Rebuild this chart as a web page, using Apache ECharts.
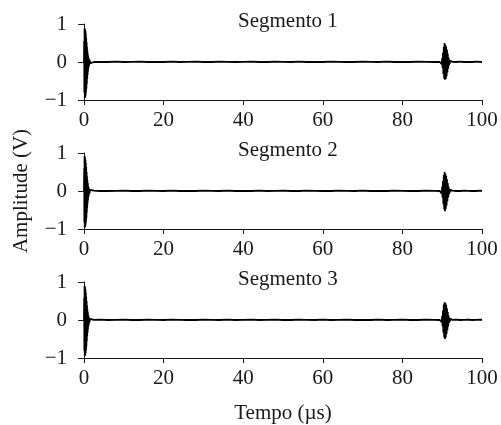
<!DOCTYPE html>
<html lang="pt">
<head>
    <meta charset="UTF-8">
    <title>Segmentos</title>
    <script src="https://cdn.jsdelivr.net/npm/echarts@6/dist/echarts.min.js"></script>
</head>
<style>
    html, body { margin: 0; padding: 0; background: #fff; }
    #chart { width: 501px; height: 425px; }
</style>
<body>
<div id="chart"></div>
<script type="text/javascript">
    // eixos
    var xTicks = [0, 20, 40, 60, 80, 100];
    var yTicks = [-1, 0, 1];
    var titles = ['Segmento 1', 'Segmento 2', 'Segmento 3'];

    // pulso inicial (tempo em µs)
    var burstTime = [0, 0.05, 0.1, 0.15, 0.2, 0.25, 0.3, 0.35, 0.4, 0.45, 0.5, 0.55, 0.6, 0.65, 0.7, 0.75,
        0.8, 0.85, 0.9, 0.95, 1.0, 1.05, 1.1, 1.15, 1.2, 1.25, 1.3, 1.35, 1.4, 1.5, 1.6, 1.8, 2.0];
    var burst1 = [0, 0.55, -0.80, 0.89, -0.95, 0.86, -0.93, 0.82, -0.88, 0.75, -0.80, 0.64, -0.70, 0.52, -0.58, 0.40,
        -0.45, 0.30, -0.34, 0.22, -0.25, 0.15, -0.17, 0.10, -0.12, 0.07, -0.08, 0.05, -0.05, 0.03, -0.03, 0.01, 0];
    var burst2 = [0, 0.60, -0.82, 0.92, -0.96, 0.88, -0.94, 0.83, -0.89, 0.74, -0.81, 0.63, -0.71, 0.50, -0.57, 0.38,
        -0.44, 0.28, -0.33, 0.21, -0.24, 0.14, -0.16, 0.10, -0.11, 0.06, -0.07, 0.04, -0.05, 0.03, -0.02, 0.01, 0];
    var burst3 = [0, 0.58, -0.81, 0.90, -0.95, 0.87, -0.93, 0.81, -0.87, 0.73, -0.79, 0.62, -0.69, 0.50, -0.56, 0.39,
        -0.43, 0.29, -0.33, 0.21, -0.24, 0.14, -0.16, 0.09, -0.11, 0.06, -0.07, 0.04, -0.04, 0.03, -0.02, 0.01, 0];

    // eco
    var echoTime = [89.6, 89.8, 89.9, 90.0, 90.1, 90.2, 90.3, 90.4, 90.5, 90.6, 90.7, 90.8, 90.9, 91.0, 91.1,
        91.2, 91.3, 91.4, 91.5, 91.6, 91.7, 91.8, 91.9, 92.0, 92.2, 92.4];
    var echo1 = [0, 0.03, -0.06, 0.10, -0.16, 0.24, -0.32, 0.40, -0.44, 0.50, -0.47, 0.45, -0.45, 0.40, -0.38,
        0.32, -0.28, 0.22, -0.18, 0.12, -0.09, 0.06, -0.04, 0.03, -0.02, 0];
    var echo2 = [0, 0.03, -0.07, 0.12, -0.18, 0.26, -0.34, 0.42, -0.48, 0.50, -0.53, 0.46, -0.47, 0.40, -0.38,
        0.31, -0.27, 0.21, -0.17, 0.12, -0.09, 0.06, -0.04, 0.03, -0.02, 0];
    var echo3 = [0, 0.03, -0.06, 0.11, -0.17, 0.25, -0.33, 0.41, -0.46, 0.47, -0.50, 0.45, -0.46, 0.40, -0.37,
        0.31, -0.27, 0.21, -0.17, 0.12, -0.08, 0.06, -0.04, 0.03, -0.02, 0];

    // ruido de fundo
    var noiseTime = [2.5, 4, 6, 8, 10, 12, 14, 16, 18, 20, 22, 24, 26, 28, 30, 32, 34, 36, 38, 40, 42, 44, 46, 48,
        50, 52, 54, 56, 58, 60, 62, 64, 66, 68, 70, 72, 74, 76, 78, 80, 82, 84, 86, 88, 89.4];
    var noise1 = [0, 0.005, 0, 0.01, 0, 0.005, 0.01, 0, 0.005, 0, 0.01, 0, 0.005, 0.01, 0, 0, 0.01, 0.005,
        0, 0.005, 0.01, 0, 0, 0.01, 0.005, 0, 0.01, 0, 0.005, 0, 0.01, 0.005, 0, 0, 0.01, 0.005, 0,
        0.01, 0, 0.005, 0, 0.01, 0.005, 0, 0];
    var noise2 = [0.01, 0, 0, 0.005, 0.01, 0, 0, 0.01, 0.005, 0, 0.01, 0, 0.005, 0, 0.01, 0.005, 0, 0.01,
        0, 0.005, 0, 0.01, 0, 0.005, 0.01, 0, 0, 0.01, 0.005, 0, 0, 0.01, 0.005, 0, 0.01, 0, 0.005,
        0, 0.01, 0.005, 0, 0, 0.01, 0.005, 0];
    var noise3 = [0.005, 0.01, 0, 0.005, 0.01, 0, 0, 0.01, 0.005, 0, 0.01, 0.005, 0, 0, 0.01, 0.005, 0,
        0.01, 0, 0.005, 0.01, 0, 0.005, 0.01, 0, 0, 0.01, 0.005, 0, 0.01, 0, 0.005, 0.01, 0, 0.005, 0,
        0.01, 0, 0.005, 0.01, 0, 0, 0.01, 0.005, 0];
    var tailTime = [92.6, 93.5, 94.5, 95.5, 96.5, 97.5, 98.5, 99.5, 100];
    var tail1 = [0.005, 0, 0.01, 0, 0.005, 0, 0.01, 0.005, 0];
    var tail2 = [0.01, 0, 0, 0.01, 0.005, 0, 0, 0.01, 0];
    var tail3 = [0.005, 0.01, 0, 0.005, 0.01, 0, 0.005, 0.01, 0];

    var bursts = [burst1, burst2, burst3];
    var echoes = [echo1, echo2, echo3];
    var noises = [noise1, noise2, noise3];
    var tails = [tail1, tail2, tail3];

    function pairs(t, v) {
        return t.map(function (x, i) { return [x, v[i]]; });
    }

    var font = 'Liberation Serif';
    var ink = '#1a1a1a';
    var tops = [24, 153, 282];

    var grids = [], xAxes = [], yAxes = [], series = [], titleList = [];
    for (var k = 0; k < 3; k++) {
        grids.push({left: 84, top: tops[k], width: 398, height: 76, containLabel: false});
        xAxes.push({
            gridIndex: k, type: 'value', min: xTicks[0], max: xTicks[xTicks.length - 1], interval: 20,
            axisLine: {onZero: false, lineStyle: {color: ink, width: 1}},
            axisTick: {show: true, length: 5, lineStyle: {color: ink}},
            axisLabel: {color: ink, fontFamily: font, fontSize: 21, margin: 10},
            splitLine: {show: false}
        });
        yAxes.push({
            gridIndex: k, type: 'value', min: yTicks[0], max: yTicks[yTicks.length - 1], interval: 1,
            axisLine: {show: true, lineStyle: {color: ink, width: 1}},
            axisTick: {show: true, length: 6, lineStyle: {color: ink}},
            axisLabel: {
                color: ink, fontFamily: font, fontSize: 21, margin: 17,
                formatter: function (v) { return v < 0 ? '\u2212' + Math.abs(v) : String(v); }
            },
            splitLine: {show: false},
            name: k === 1 ? 'Amplitude (V)' : '',
            nameLocation: 'middle', nameGap: 52, nameRotate: 90,
            nameTextStyle: {color: ink, fontFamily: font, fontSize: 21}
        });
        if (k === 2) {
            xAxes[k].name = 'Tempo (\u00b5s)';
            xAxes[k].nameLocation = 'middle';
            xAxes[k].nameGap = 45;
            xAxes[k].nameTextStyle = {color: ink, fontFamily: font, fontSize: 21};
        }
        titleList.push({
            text: titles[k], left: 233, top: tops[k] - 18,
            textStyle: {color: ink, fontFamily: font, fontSize: 21, fontWeight: 'normal'}
        });
        var data = pairs(burstTime, bursts[k])
            .concat(pairs(noiseTime, noises[k]))
            .concat(pairs(echoTime, echoes[k]))
            .concat(pairs(tailTime, tails[k]));
        series.push({
            type: 'line', xAxisIndex: k, yAxisIndex: k, data: data,
            showSymbol: false, symbol: 'none', animation: false,
            lineStyle: {color: '#000', width: 1.8}
        });
    }

    var chart = echarts.init(document.getElementById('chart'), null, {renderer: 'canvas'});
    chart.setOption({
        backgroundColor: '#fff',
        animation: false,
        title: titleList,
        grid: grids,
        xAxis: xAxes,
        yAxis: yAxes,
        series: series
    });
</script>
</body>
</html>
